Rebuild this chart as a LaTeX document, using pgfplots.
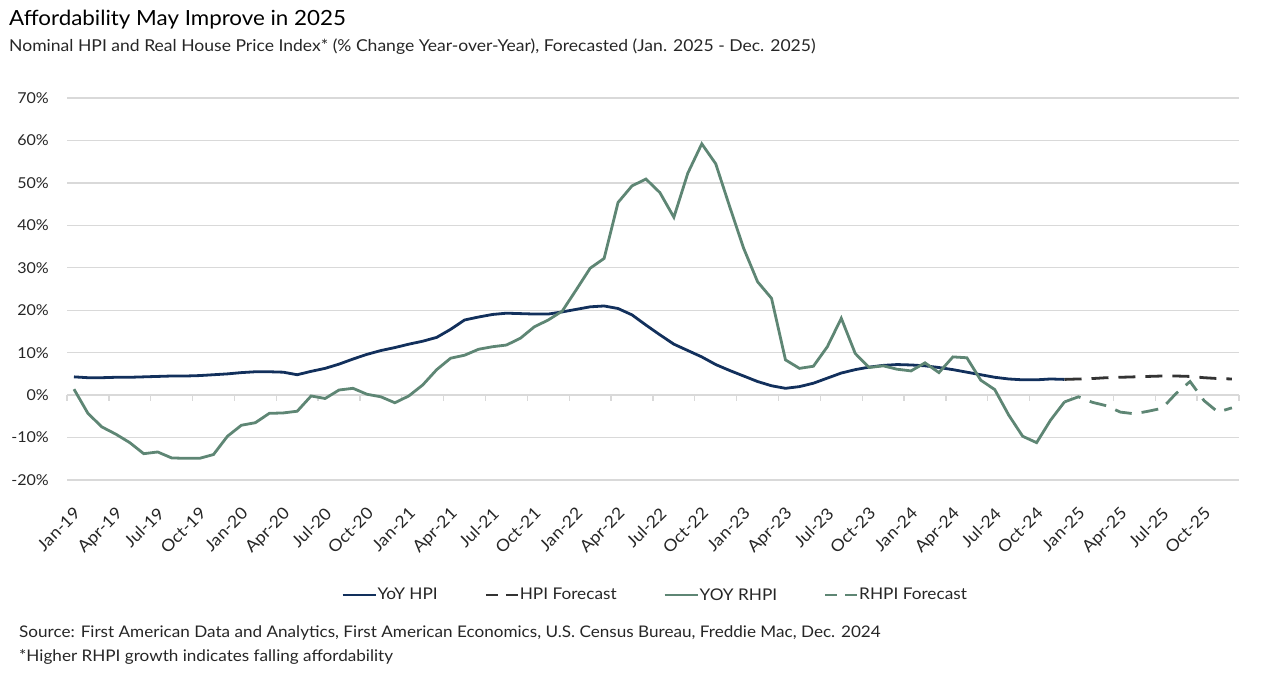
\documentclass[border=0pt]{standalone}
\usepackage{fontspec}
\setmainfont{Lato}[FakeStretch=1.07]
\usepackage{pgfplots}
\pgfplotsset{compat=1.18}

\definecolor{hpinavy}{RGB}{18,48,92}
\definecolor{rhpigreen}{RGB}{94,134,116}
\definecolor{fcgray}{RGB}{51,51,51}
\definecolor{gridgray}{RGB}{217,217,217}
\definecolor{labelgray}{RGB}{38,38,38}

\pgfplotsset{
  solidlegend/.style={legend image code/.code={\draw[##1] (0pt,0pt) -- (33pt,0pt);}},
  fclegend/.style={legend image code/.code={\draw[##1, dash pattern=on 12pt off 8pt] (0pt,0pt) -- (32pt,0pt);}},
}

\begin{document}
\begin{tikzpicture}
\useasboundingbox (0,0) rectangle (1261pt,679pt);

\node[anchor=west, inner sep=0pt, text=black] at (9pt,659pt) {\fontsize{20.9}{25}\selectfont Affordability May Improve in 2025};
\node[anchor=west, inner sep=0pt, text=labelgray] at (9pt,632pt) {\fontsize{16.4}{19}\selectfont Nominal HPI and Real House Price Index* (\% Change Year-over-Year), Forecasted (Jan. 2025 - Dec. 2025)};

\begin{axis}[
  at={(67pt,199pt)}, anchor=south west,
  scale only axis, width=1172pt, height=382pt,
  xmin=-0.5, xmax=83.5, ymin=-20, ymax=70,
  axis line style={draw=none},
  clip=false,
  major tick length=0pt,
  ytick={-20,-10,...,70},
  yticklabels={-20\%,-10\%,0\%,10\%,20\%,30\%,40\%,50\%,60\%,70\%},
  ymajorgrids,
  y grid style={gridgray, line width=1.3pt},
  xtick={0,3,...,81},
  xticklabels={Jan-19,Apr-19,Jul-19,Oct-19,Jan-20,Apr-20,Jul-20,Oct-20,
    Jan-21,Apr-21,Jul-21,Oct-21,Jan-22,Apr-22,Jul-22,Oct-22,
    Jan-23,Apr-23,Jul-23,Oct-23,Jan-24,Apr-24,Jul-24,Oct-24,
    Jan-25,Apr-25,Jul-25,Oct-25},
  tick label style={font=\fontsize{15}{18}\selectfont, text=labelgray},
  yticklabel style={anchor=east, inner sep=0pt, xshift=-18pt},
  xticklabel style={font=\fontsize{16.5}{19}\selectfont, xshift=-1pt, yshift=-26pt, rotate=45, anchor=north east, inner sep=0pt},
  legend columns=4,
  legend cell align=left,
  legend style={
    at={(0.2338,-0.301)}, anchor=west,
    draw=none, fill=none, inner sep=0pt,
    font=\fontsize{16.1}{19}\selectfont, text=labelgray,
    nodes={inner sep=0.6pt},
    /tikz/every even column/.append style={column sep=46pt}
  },
  solidlegend,
]

\pgfplotsinvokeforeach{-0.5,2.5,...,83.5}{
  \draw[gridgray, line width=1.3pt] (axis cs:#1,0) -- ++(0pt,-6pt);
}

% YoY HPI, actual
\addplot[hpinavy, line width=2.8pt] table {
x y
0 4.3
1 4.1
2 4.1
3 4.2
4 4.2
5 4.3
6 4.4
7 4.5
8 4.5
9 4.6
10 4.8
11 5.0
12 5.3
13 5.5
14 5.5
15 5.4
16 4.8
17 5.6
18 6.3
19 7.3
20 8.5
21 9.6
22 10.5
23 11.2
24 12.0
25 12.7
26 13.6
27 15.5
28 17.7
29 18.4
30 19.0
31 19.3
32 19.2
33 19.1
34 19.1
35 19.6
36 20.2
37 20.8
38 21.0
39 20.4
40 18.9
41 16.5
42 14.2
43 12.0
44 10.5
45 9.0
46 7.2
47 5.8
48 4.5
49 3.2
50 2.2
51 1.6
52 2.0
53 2.8
54 4.0
55 5.2
56 6.0
57 6.6
58 7.0
59 7.2
60 7.1
61 6.9
62 6.5
63 6.0
64 5.4
65 4.8
66 4.2
67 3.8
68 3.6
69 3.6
70 3.8
71 3.7
};
\addlegendentry{YoY HPI}

% HPI forecast
\addplot[fcgray, line width=2.8pt, dash pattern=on 17pt off 10pt, fclegend] table {
x y
71 3.7
72 3.8
73 3.9
74 4.1
75 4.2
76 4.3
77 4.4
78 4.5
79 4.5
80 4.4
81 4.1
82 3.9
83 3.8
};
\addlegendentry{HPI Forecast}

% YOY RHPI, actual
\addplot[rhpigreen, line width=2.8pt] table {
x y
0 1.4
1 -4.3
2 -7.5
3 -9.2
4 -11.2
5 -13.8
6 -13.4
7 -14.8
8 -14.9
9 -14.9
10 -14.0
11 -9.7
12 -7.1
13 -6.5
14 -4.3
15 -4.2
16 -3.8
17 -0.2
18 -0.8
19 1.2
20 1.6
21 0.2
22 -0.4
23 -1.8
24 -0.2
25 2.4
26 6.0
27 8.7
28 9.4
29 10.8
30 11.4
31 11.8
32 13.4
33 16.1
34 17.7
35 19.8
36 24.8
37 29.9
38 32.2
39 45.4
40 49.3
41 50.9
42 47.7
43 41.9
44 52.3
45 59.2
46 54.5
47 44.4
48 34.6
49 26.7
50 22.8
51 8.3
52 6.3
53 6.8
54 11.4
55 18.1
56 9.8
57 6.5
58 6.9
59 6.1
60 5.7
61 7.6
62 5.3
63 9.0
64 8.8
65 3.5
66 1.3
67 -4.7
68 -9.7
69 -11.2
70 -5.9
71 -1.6
};
\addlegendentry{YOY RHPI}

% RHPI forecast
\addplot[rhpigreen, line width=2.8pt, dash pattern=on 17pt off 10pt, fclegend] table {
x y
71 -1.6
72 -0.4
73 -1.7
74 -2.5
75 -4.0
76 -4.4
77 -3.8
78 -3.1
79 0.4
80 3.2
81 -1.3
82 -4.0
83 -3.0
};
\addlegendentry{RHPI Forecast}

\end{axis}

\node[anchor=west, inner sep=0pt, text=labelgray] at (19pt,46pt) {\fontsize{16}{19}\selectfont Source: First American Data and Analytics, First American Economics, U.S. Census Bureau, Freddie Mac, Dec. 2024};
\node[anchor=west, inner sep=0pt, text=labelgray] at (19pt,22pt) {\fontsize{16}{19}\selectfont *Higher RHPI growth indicates falling affordability};
\end{tikzpicture}
\end{document}
